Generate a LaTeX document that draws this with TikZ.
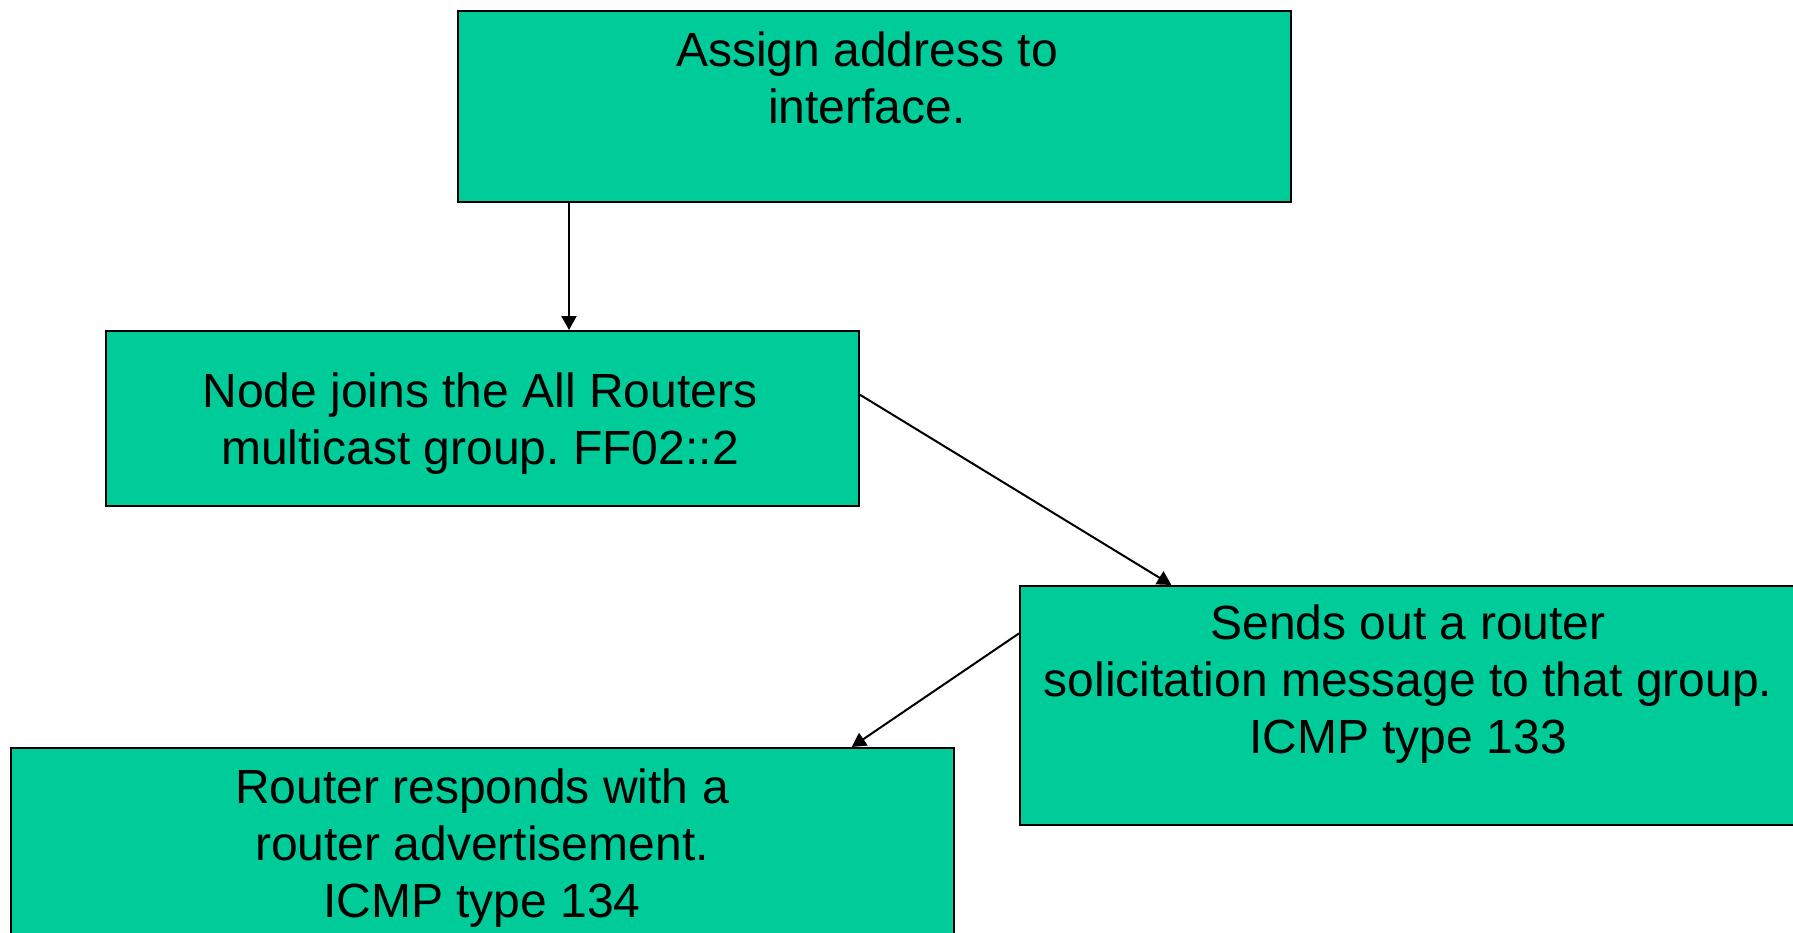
\documentclass[tikz,border=0pt]{standalone}
\usepackage{fontspec}
\setmainfont{Liberation Sans}
\usetikzlibrary{arrows.meta,calc}
\definecolor{boxgreen}{HTML}{00CC99}
\frenchspacing
\tikzset{
  stepbox/.style={draw=black, line width=2pt, fill=boxgreen, rectangle, inner sep=0pt, anchor=north west},
  boxtext/.style={align=center, inner sep=0pt, font=\fontsize{48}{57}\selectfont},
  arr/.style={line width=2pt, -{Triangle[length=14pt,width=15pt]}},
}
\begin{document}
\begin{tikzpicture}[x=1pt,y=-1pt]
\useasboundingbox (0,0) rectangle (1793,933);
% boxes
\node[stepbox, minimum width=833pt, minimum height=191pt] (b1) at (457,10) {};
\node[stepbox, minimum width=753pt, minimum height=175pt] (b2) at (105,330) {};
\node[stepbox, minimum width=800pt, minimum height=239pt] (b3) at (1019,585) {};
\node[stepbox, minimum width=943pt, minimum height=240pt] (b4) at (10,747) {};
% texts
\node[boxtext] (t1) at (867,78) {Assign address to\\interface.};
\node[boxtext] (t2) at (480,424) {Node joins the All Routers\\multicast group. FF02::2};
\node[boxtext] (t3) at (1408,684) {Sends out a router\\solicitation message to that group.\\ICMP type 133};
\node[boxtext] (t4) at (482,848) {Router responds with a\\router advertisement.\\ICMP type 134};
% connectors
\coordinate (a1) at ($(b1.south west)+(112,0)$);
\draw[arr] (a1) -- (a1 |- b2.north);
\draw[arr] ($(b2.north east)!0.366!(b2.south east)$) -- ($(b3.north west)!0.19!(b3.north east)$);
\draw[arr] ($(b3.north west)!0.2008!(b3.south west)$) -- ($(b4.north west)!0.8908!(b4.north east)$);
\end{tikzpicture}
\end{document}
